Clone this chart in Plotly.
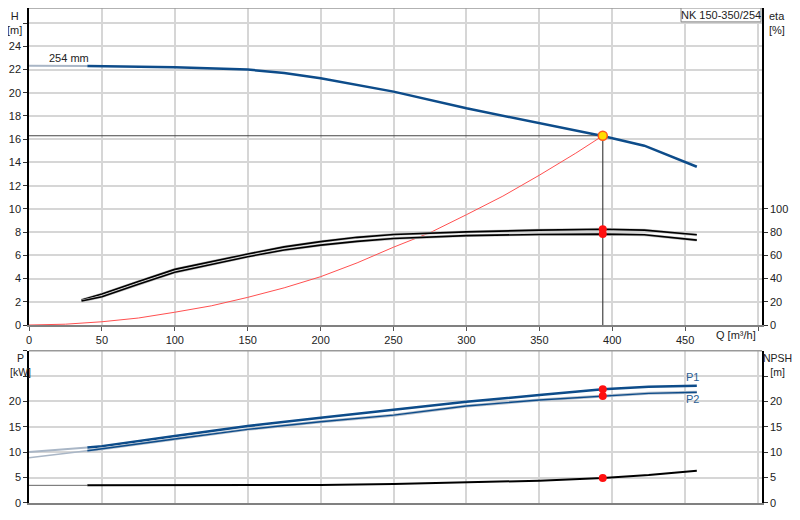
import plotly.graph_objects as go

#%% Datos leidos de la curva de la bomba
# Curva H-Q (la parte clara es la zona extrapolada)
q_h_ext = [0, 40]
h_ext = [22.33, 22.30]
q_h = [40, 50, 100, 150, 175, 200, 225, 250, 300, 350, 393.5, 422, 458]
h = [22.30, 22.28, 22.2, 22.0, 21.7, 21.25, 20.7, 20.1, 18.66, 17.37, 16.28, 15.44, 13.63]

# Curva del sistema
q_sys = [0, 25, 50, 75, 100, 125, 150, 175, 200, 225, 250, 275, 300, 325, 350, 375, 393.5]
h_sys = [0, 0.07, 0.28, 0.6, 1.1, 1.65, 2.38, 3.2, 4.16, 5.35, 6.7, 7.95, 9.5, 11.1, 12.9, 14.8, 16.3]

# Rendimientos
q_eta = [36, 50, 75, 100, 150, 175, 200, 225, 250, 300, 350, 393.5, 422, 458]
eta1 = [21.5, 26.7, 37.5, 47.9, 61.1, 67.3, 71.8, 75.5, 78.0, 80.2, 81.7, 82.5, 81.7, 77.7]
eta2 = [20.6, 24.4, 35.0, 45.4, 58.8, 64.6, 68.8, 72.0, 74.5, 77.0, 78.0, 78.3, 77.7, 73.1]

# Potencias P1, P2
q_p_ext = [0, 40]
p1_ext = [10.04, 10.95]
p2_ext = [8.92, 10.3]
q_p = [40, 50, 100, 150, 200, 250, 300, 350, 393.5, 425, 458]
p1 = [10.95, 11.2, 13.2, 15.15, 16.8, 18.35, 19.95, 21.26, 22.4, 22.9, 23.1]
p2 = [10.3, 10.7, 12.6, 14.5, 16.0, 17.3, 19.1, 20.3, 21.1, 21.6, 21.8]

# NPSH
q_npsh_ext = [0, 40]
npsh_ext = [3.48, 3.48]
q_npsh = [40, 100, 150, 200, 250, 300, 350, 393.5, 425, 458]
npsh = [3.48, 3.48, 3.45, 3.54, 3.74, 4.07, 4.4, 4.92, 5.5, 6.36]

# Punto de trabajo
duty_q = 393.5
duty_h = 16.3
duty_eta = [82.5, 78.3]
duty_p = [22.4, 21.1]
duty_npsh = 4.92

q_ticks = list(range(0, 501, 50))
q_labels = [str(v) for v in q_ticks[:-1]] + [""]

BLUE = "#0d4c8a"
LIGHT = "#a9b6c6"
FONT = dict(family="Liberation Sans, Arial", size=11, color="#222")

fig = go.Figure()

#%% Grafico superior
fig.add_trace(go.Scatter(x=[0, duty_q], y=[duty_h, duty_h], mode="lines",
                         line=dict(color="#444", width=1.2), xaxis="x", yaxis="y"))
fig.add_trace(go.Scatter(x=[duty_q, duty_q], y=[duty_h, 0], mode="lines",
                         line=dict(color="#444", width=1.2), xaxis="x", yaxis="y"))
fig.add_trace(go.Scatter(x=q_sys, y=h_sys, mode="lines",
                         line=dict(color="#ff5050", width=1), xaxis="x", yaxis="y"))
fig.add_trace(go.Scatter(x=q_h_ext, y=h_ext, mode="lines",
                         line=dict(color=LIGHT, width=2), xaxis="x", yaxis="y"))
fig.add_trace(go.Scatter(x=q_h, y=h, mode="lines",
                         line=dict(color=BLUE, width=2.5), xaxis="x", yaxis="y"))

for eta in (eta1, eta2):
    fig.add_trace(go.Scatter(x=q_eta, y=eta, mode="lines",
                             line=dict(color="#c4c4c4", width=2.8), xaxis="x", yaxis="y3"))
    fig.add_trace(go.Scatter(x=q_eta, y=eta, mode="lines",
                             line=dict(color="#000", width=1.6), xaxis="x", yaxis="y3"))

fig.add_trace(go.Scatter(x=[duty_q] * 2, y=duty_eta, mode="markers",
                         marker=dict(color="#ff1010", size=8), xaxis="x", yaxis="y3"))
fig.add_trace(go.Scatter(x=[duty_q], y=[duty_h], mode="markers",
                         marker=dict(color="#ffdd00", size=9, line=dict(color="#ff5a1a", width=1.5)),
                         xaxis="x", yaxis="y"))

#%% Grafico inferior
fig.add_trace(go.Scatter(x=q_p_ext, y=p1_ext, mode="lines",
                         line=dict(color=LIGHT, width=2), xaxis="x2", yaxis="y2"))
fig.add_trace(go.Scatter(x=q_p_ext, y=p2_ext, mode="lines",
                         line=dict(color=LIGHT, width=1.5), xaxis="x2", yaxis="y2"))
fig.add_trace(go.Scatter(x=q_p, y=p1, mode="lines",
                         line=dict(color=BLUE, width=2.5), xaxis="x2", yaxis="y2"))
fig.add_trace(go.Scatter(x=q_p, y=p2, mode="lines",
                         line=dict(color="#b4bfcc", width=3), xaxis="x2", yaxis="y2"))
fig.add_trace(go.Scatter(x=q_p, y=p2, mode="lines",
                         line=dict(color=BLUE, width=1.4), xaxis="x2", yaxis="y2"))
fig.add_trace(go.Scatter(x=q_npsh_ext, y=npsh_ext, mode="lines",
                         line=dict(color="#666", width=1), xaxis="x2", yaxis="y4"))
fig.add_trace(go.Scatter(x=q_npsh, y=npsh, mode="lines",
                         line=dict(color="#000", width=2), xaxis="x2", yaxis="y4"))
fig.add_trace(go.Scatter(x=[duty_q] * 2, y=duty_p, mode="markers",
                         marker=dict(color="#ff1010", size=8), xaxis="x2", yaxis="y2"))
fig.add_trace(go.Scatter(x=[duty_q], y=[duty_npsh], mode="markers",
                         marker=dict(color="#ff1010", size=8), xaxis="x2", yaxis="y4"))

x_common = dict(range=[0, 502.7], tickvals=q_ticks, showgrid=True, gridcolor="#d6d6d6",
                gridwidth=1.5, showline=True, linecolor="#808080", linewidth=2,
                tickfont=FONT, zeroline=False, automargin=False)
y_common = dict(showline=True, linecolor="#000", linewidth=1.5, ticks="outside",
                ticklen=4, tickcolor="#333", tickfont=FONT, zeroline=False, automargin=False)

# la pagina deja 8 px de margen, por eso el tamano es 792x512
fig.update_layout(
    width=792, height=512,
    margin=dict(l=21, r=38, t=0, b=17),
    paper_bgcolor="white", plot_bgcolor="white",
    showlegend=False, hovermode=False,
    xaxis=dict(**x_common, domain=[0, 1], anchor="y", ticktext=q_labels,
               ticks="outside", ticklen=4, tickcolor="#555"),
    xaxis2=dict(**x_common, domain=[0, 1], anchor="y2", showticklabels=False, ticks=""),
    yaxis=dict(**y_common, domain=[0.3596, 1], range=[0, 27.3],
               tickvals=list(range(0, 27, 2)),
               ticktext=[str(v) for v in range(0, 25, 2)] + [""],
               showgrid=True, gridcolor="#d6d6d6", gridwidth=1.5),
    yaxis3=dict(**y_common, overlaying="y", side="right", anchor="x", range=[0, 273],
                tickvals=list(range(0, 101, 20)), showgrid=False),
    yaxis2=dict(**y_common, domain=[0, 0.3077], range=[0, 30],
                tickvals=list(range(0, 31, 5)),
                ticktext=[str(v) for v in range(0, 21, 5)] + ["", ""],
                showgrid=True, gridcolor="#d6d6d6", gridwidth=1.5),
    yaxis4=dict(**y_common, overlaying="y2", side="right", anchor="x2", range=[0, 30],
                tickvals=list(range(0, 26, 5)),
                ticktext=[str(v) for v in range(0, 21, 5)] + [""], showgrid=False),
)

# bordes superiores
fig.add_shape(type="line", xref="paper", yref="paper", x0=0, x1=1, y0=1, y1=1,
              line=dict(color="#999", width=1.5))
fig.add_shape(type="line", xref="paper", yref="paper", x0=0, x1=1, y0=0.3077, y1=0.3077,
              line=dict(color="#999", width=1.5))

# caja del modelo
fig.add_shape(type="rect", xref="paper", yref="paper", x0=0.8895, x1=0.9986,
              y0=0.972, y1=1.0, fillcolor="white", line=dict(color="#888", width=1),
              layer="above")
fig.add_annotation(text="NK 150-350/254", xref="paper", yref="paper", x=0.944, y=0.986,
                   showarrow=False, font=FONT, xanchor="center", yanchor="middle")

# textos de ejes
fig.add_annotation(text="H<br>[m]", xref="paper", yref="paper", x=-0.0195, y=1.0,
                   xanchor="center", yanchor="top", showarrow=False, font=FONT)
fig.add_annotation(text="eta<br>[%]", xref="paper", yref="paper", x=1.0, y=1.0, xshift=5,
                   xanchor="left", yanchor="top", align="left", showarrow=False, font=FONT)
fig.add_annotation(text="P<br>[kW]", xref="paper", yref="paper", x=0, y=0.309, xshift=-9,
                   xanchor="center", yanchor="top", showarrow=False,
                   font=dict(family="Liberation Sans, Arial", size=10.5, color="#222"))
fig.add_annotation(text="NPSH<br>[m]", xref="paper", yref="paper", x=1.0, y=0.309, xshift=15,
                   xanchor="center", yanchor="top", showarrow=False,
                   font=dict(family="Liberation Sans, Arial", size=10.5, color="#222"))
fig.add_annotation(text="Q [m³/h]", xref="x", yref="paper", x=500, y=0.3394,
                   xanchor="right", yanchor="middle", showarrow=False, font=FONT)
fig.add_annotation(text="254 mm", xref="x", yref="y", x=12, y=23.0,
                   xanchor="left", yanchor="middle", showarrow=False, font=FONT)
fig.add_annotation(text="P1", xref="x2", yref="y2", x=455, y=24.8,
                   xanchor="center", yanchor="middle", showarrow=False,
                   font=dict(family="Liberation Sans, Arial", size=11, color="#2a5d93"))
fig.add_annotation(text="P2", xref="x2", yref="y2", x=455, y=20.5,
                   xanchor="center", yanchor="middle", showarrow=False,
                   font=dict(family="Liberation Sans, Arial", size=11, color="#2a5d93"))

fig.write_html("out.html")
